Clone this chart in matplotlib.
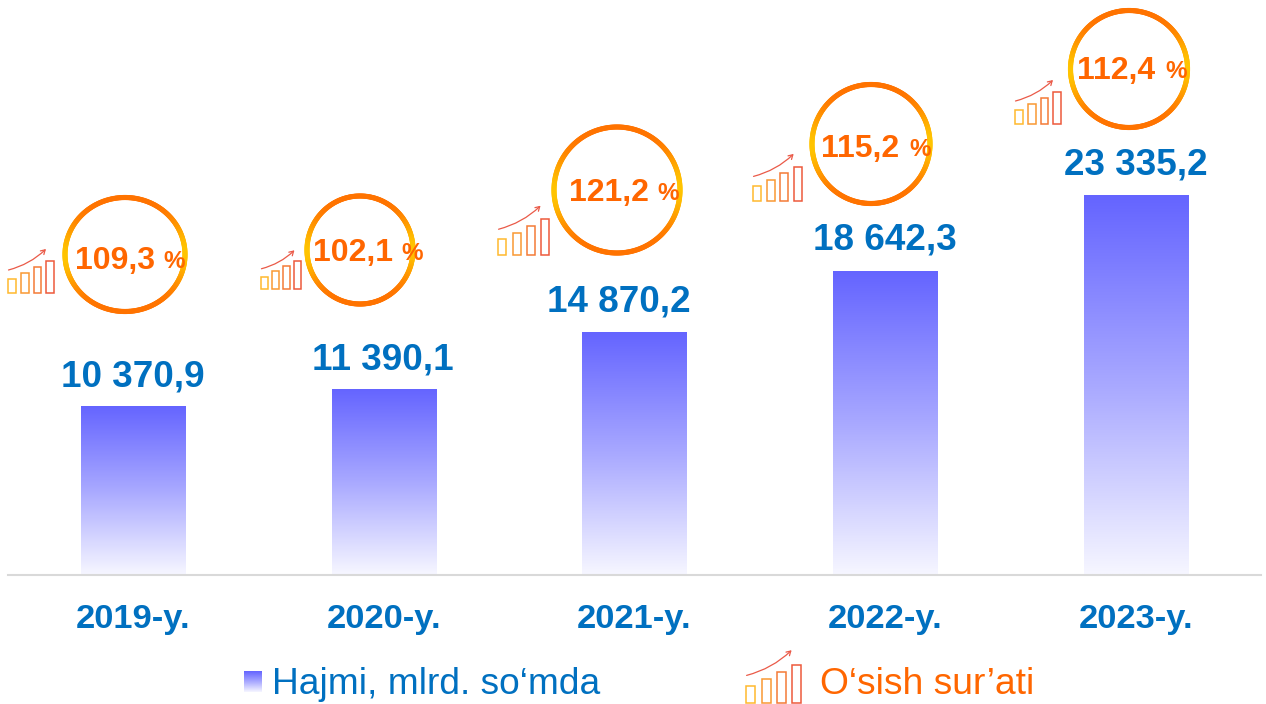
import numpy as np
import matplotlib
matplotlib.use("Agg")
import matplotlib.pyplot as plt
from matplotlib.collections import LineCollection
from matplotlib.colors import LinearSegmentedColormap, to_rgb
from matplotlib.patches import Rectangle

plt.rcParams['font.family'] = ['Liberation Sans', 'DejaVu Sans']

# --- data
years = ['2019-y.', '2020-y.', '2021-y.', '2022-y.', '2023-y.']
volumes = [10370.9, 11390.1, 14870.2, 18642.3, 23335.2]
volume_labels = ['10 370,9', '11 390,1', '14 870,2', '18 642,3', '23 335,2']
growth_labels = ['109,3', '102,1', '121,2', '115,2', '112,4']
legend_volume = 'Hajmi, mlrd. so‘mda'
legend_growth = 'O‘sish sur’ati'

# --- layout (pixels of the 1266x704 canvas)
W, H = 1266, 704
base_px, left_px, right_px = 574.5, 7.6, 1261
px_per_unit = 0.01628
label_dx = [0, -0.5, -15.5, 0, 0.5]
label_up = [29, 29, 30, 31, 30]
ring_cx = [125, 360, 617, 871, 1129]
ring_cy = [254.5, 250, 190, 144, 69]
ring_rx = [60, 53, 63, 59, 58.5]
ring_ry = [57, 54, 63, 59.5, 58.5]
pct_left = [75, 313, 569, 821, 1077]
pct_y = [260.5, 253.5, 193.5, 149.5, 71.5]
icon_x = [8, 261, 498, 753, 1015]
icon_bottom = [293, 289, 255, 201, 124]
icon_scale = [1.0, 0.88, 1.12, 1.07, 1.0]

BLUE = '#0070C0'
ORANGE = '#FF6600'
bar_cmap = LinearSegmentedColormap.from_list('bar', ['#F6F6FF', '#A8A8FF', '#6464FF'])
icon_cmap = LinearSegmentedColormap.from_list('icon', ['#FFB92E', '#EE5A3C'])

fig = plt.figure(figsize=(W / 100, H / 100), dpi=100, facecolor='white')
ax = fig.add_axes([left_px / W, 1 - base_px / H, (right_px - left_px) / W, base_px / H])
ax.set_xlim(-0.5, 4.5)
ax.set_ylim(0, base_px / px_per_unit)
ax.patch.set_alpha(0)

grad = np.linspace(1, 0, 256).reshape(-1, 1)
for i, (v, lab, dx, up) in enumerate(zip(volumes, volume_labels, label_dx, label_up)):
    bar = ax.bar(i, v, width=0.415, color='none', linewidth=0)[0]
    im = ax.imshow(grad, cmap=bar_cmap, aspect='auto', vmin=0, vmax=1,
                   extent=(i - 0.2075, i + 0.2075, 0, v), zorder=2)
    im.set_clip_path(bar)
    ax.annotate(lab, (i, v), xytext=(dx * 0.72, up * 0.72), textcoords='offset points',
                ha='center', va='center', fontsize=26.6, fontweight='bold', color=BLUE)
ax.set_xlim(-0.5, 4.5)
ax.set_ylim(0, base_px / px_per_unit)

for s in ['top', 'left', 'right']:
    ax.spines[s].set_visible(False)
ax.spines['bottom'].set_color('#D9D9D9')
ax.spines['bottom'].set_linewidth(1.5)
ax.spines['bottom'].set_zorder(3)
ax.set_yticks([])
ax.set_xticks(range(len(years)), years)
ax.tick_params(axis='x', length=0, pad=21.5, labelsize=24.8, labelcolor=BLUE)
for t in ax.get_xticklabels():
    t.set_fontweight('bold')

# overlay in canvas pixels for rings and icons
ov = fig.add_axes([0, 0, 1, 1])
ov.set_xlim(0, W)
ov.set_ylim(H, 0)
ov.axis('off')


def ring(cx, cy, rx, ry):
    th = np.linspace(0, 2 * np.pi, 241)
    x, y = cx + rx * np.cos(th), cy + ry * np.sin(th)
    pts = np.column_stack([x, y])
    segs = np.stack([pts[:-1], pts[1:]], axis=1)
    mid = (th[:-1] + th[1:]) / 2
    o, yel = np.array(to_rgb('#FF7300')), np.array(to_rgb('#FFC400'))
    m = np.abs(np.cos(mid)) ** 6
    cols = o[None, :] * (1 - m[:, None]) + yel[None, :] * m[:, None]
    ov.add_collection(LineCollection(segs, colors=cols, linewidths=3.7, capstyle='round', zorder=3))


def icon(x0, bottom, s):
    bars = [(0, 14), (13, 20), (25.5, 26), (38, 32)]
    for k, (dx, h) in enumerate(bars):
        c = icon_cmap(k / 3)
        ov.add_patch(Rectangle((x0 + dx * s, bottom - h * s), 7.5 * s, h * s,
                               fill=False, ec=c, lw=1.1, zorder=3))
    ov.annotate('', xy=(x0 + 38 * s, bottom - 44 * s), xytext=(x0 + 0.5 * s, bottom - 23 * s),
                arrowprops=dict(arrowstyle='->,head_length=0.3,head_width=0.18', color='#EA5A48',
                                lw=0.9, shrinkA=0, shrinkB=0,
                                connectionstyle='arc3,rad=0.13'), zorder=3)


for i, lab in enumerate(growth_labels):
    ring(ring_cx[i], ring_cy[i], ring_rx[i], ring_ry[i])
    icon(icon_x[i], icon_bottom[i], icon_scale[i])
    ov.text(pct_left[i], pct_y[i], lab, ha='left', va='center', fontsize=23,
            fontweight='bold', color=ORANGE, zorder=4)
    ov.text(pct_left[i] + 88, pct_y[i] + 0.5, '%', ha='left', va='center', fontsize=17.5,
            fontweight='bold', color=ORANGE, zorder=4)

# legend
ov.imshow(grad, cmap=bar_cmap, aspect='auto', vmin=0, vmax=1, extent=(244, 262, 692, 671), zorder=3)
ov.set_xlim(0, W)
ov.set_ylim(H, 0)
ov.text(272, 684.5, legend_volume, ha='left', va='center', fontsize=26.7, color=BLUE)
icon(746, 703, 1.2)
ov.text(820, 684.5, legend_growth, ha='left', va='center', fontsize=26.8, color=ORANGE)

fig.savefig('out.png', dpi=100, facecolor='white')
